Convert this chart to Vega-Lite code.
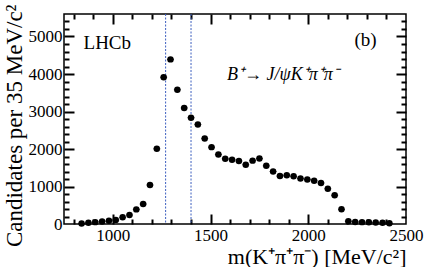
{
  "$schema": "https://vega.github.io/schema/vega-lite/v6.json",
  "width": 342,
  "height": 210,
  "autosize": "none",
  "padding": {"left": 64, "top": 14, "right": 21, "bottom": 43},
  "background": "white",
  "config": {
    "font": "Liberation Serif",
    "view": {"stroke": "black", "strokeWidth": 1.5},
    "axis": {
      "domain": false,
      "grid": false,
      "labelFont": "Liberation Serif",
      "labelFontSize": 17,
      "labelColor": "black",
      "titleFont": "Liberation Serif",
      "titleFontWeight": "normal",
      "titleColor": "black"
    }
  },
  "datasets": {
    "bins": [
      {"m": 840, "n": 15}, {"m": 875, "n": 35}, {"m": 910, "n": 50}, {"m": 945, "n": 65},
      {"m": 980, "n": 85}, {"m": 1015, "n": 110}, {"m": 1050, "n": 178}, {"m": 1085, "n": 240},
      {"m": 1120, "n": 390}, {"m": 1155, "n": 532}, {"m": 1190, "n": 1040}, {"m": 1225, "n": 2005},
      {"m": 1260, "n": 3915}, {"m": 1295, "n": 4390}, {"m": 1330, "n": 3580}, {"m": 1365, "n": 3095},
      {"m": 1400, "n": 2835}, {"m": 1435, "n": 2655}, {"m": 1470, "n": 2283}, {"m": 1505, "n": 2050},
      {"m": 1540, "n": 1855}, {"m": 1575, "n": 1740}, {"m": 1610, "n": 1715}, {"m": 1645, "n": 1680},
      {"m": 1680, "n": 1580}, {"m": 1715, "n": 1690}, {"m": 1750, "n": 1745}, {"m": 1785, "n": 1551},
      {"m": 1820, "n": 1400}, {"m": 1855, "n": 1277}, {"m": 1890, "n": 1300}, {"m": 1925, "n": 1272},
      {"m": 1960, "n": 1215}, {"m": 1995, "n": 1185}, {"m": 2030, "n": 1152}, {"m": 2065, "n": 1095},
      {"m": 2100, "n": 940}, {"m": 2135, "n": 767}, {"m": 2170, "n": 391}, {"m": 2205, "n": 75},
      {"m": 2240, "n": 55}, {"m": 2275, "n": 50}, {"m": 2310, "n": 45}, {"m": 2345, "n": 40},
      {"m": 2380, "n": 35}, {"m": 2415, "n": 20}
    ],
    "cuts": [{"m": 1270}, {"m": 1400}],
    "one": [{}]
  },
  "resolve": {"axis": {"x": "independent", "y": "independent"}},
  "layer": [
    {
      "data": {"name": "cuts"},
      "mark": {"type": "rule", "color": "#3d5fbf", "strokeWidth": 1, "strokeDash": [2, 1.5]},
      "encoding": {
        "x": {"field": "m", "type": "quantitative", "scale": {"domain": [750, 2500], "nice": false},
          "axis": {"orient": "bottom", "labels": false, "title": null, "values": [1000, 1500, 2000], "ticks": true, "tickColor": "black", "tickWidth": 2, "tickSize": 10, "offset": -10}}
      }
    },
    {
      "data": {"name": "bins"},
      "mark": {"type": "tick", "orient": "horizontal", "size": 7, "thickness": 1, "color": "black"},
      "encoding": {
        "x": {"field": "m", "type": "quantitative",
          "axis": {"orient": "top", "labels": false, "title": null, "values": [1000, 1500, 2000], "ticks": true, "tickColor": "black", "tickWidth": 2, "tickSize": 10, "offset": -10}},
        "y": {"field": "n", "type": "quantitative",
          "axis": {"orient": "right", "labels": false, "title": null, "values": [1000, 2000, 3000, 4000, 5000], "ticks": true, "tickColor": "black", "tickWidth": 2, "tickSize": 10, "offset": -10}}
      }
    },
    {
      "data": {"name": "bins"},
      "mark": {"type": "circle", "size": 42, "color": "black", "opacity": 1},
      "encoding": {
        "x": {"field": "m", "type": "quantitative", "scale": {"domain": [750, 2500], "nice": false},
          "axis": {"orient": "bottom", "format": "d",
            "values": [1000, 1500, 2000, 2500],
            "ticks": false,
            "labelPadding": 3,
            "labelFlush": false,
            "labelOverlap": false,
            "title": "m(K⁺π⁺π⁻) [MeV/c²]",
            "titleFontSize": 22,
            "titleAnchor": "end",
            "titleBaseline": "alphabetic",
            "titleY": 39}},
        "y": {"field": "n", "type": "quantitative", "scale": {"domain": [0, 5600], "nice": false},
          "axis": {"orient": "left", "format": "d",
            "values": [0, 1000, 2000, 3000, 4000, 5000],
            "ticks": false,
            "labelPadding": 2,
            "labelFlush": false,
            "labelOverlap": false,
            "title": "Candidates per 35 MeV/c²",
            "titleFontSize": 23,
            "titleAnchor": "end",
            "titleY": -10,
            "titlePadding": 2}}
      }
    },
    {
      "data": {"name": "one"},
      "mark": {"type": "text", "align": "left", "baseline": "middle", "fontSize": 19, "font": "Liberation Serif", "color": "black"},
      "encoding": {
        "x": {"datum": 850, "type": "quantitative",
          "axis": {"orient": "bottom", "labels": false, "title": null, "ticks": true, "tickColor": "black", "tickWidth": 2, "tickSize": 5, "offset": -5,
            "values": [800, 900, 1100, 1200, 1300, 1400, 1600, 1700, 1800, 1900, 2100, 2200, 2300, 2400]}},
        "y": {"datum": 4814, "type": "quantitative",
          "axis": {"orient": "left", "labels": false, "title": null, "ticks": true, "tickColor": "black", "tickWidth": 2, "tickSize": 5, "offset": -5,
            "values": [200, 400, 600, 800, 1200, 1400, 1600, 1800, 2200, 2400, 2600, 2800, 3200, 3400, 3600, 3800, 4200, 4400, 4600, 4800, 5200, 5400]}},
        "text": {"value": "LHCb"}}
    },
    {
      "data": {"name": "one"},
      "mark": {"type": "text", "align": "right", "baseline": "middle", "fontSize": 19, "font": "Liberation Serif", "color": "black"},
      "encoding": {
        "x": {"datum": 2350, "type": "quantitative",
          "axis": {"orient": "top", "labels": false, "title": null, "ticks": true, "tickColor": "black", "tickWidth": 2, "tickSize": 5, "offset": -5,
            "values": [800, 900, 1100, 1200, 1300, 1400, 1600, 1700, 1800, 1900, 2100, 2200, 2300, 2400]}},
        "y": {"datum": 4894, "type": "quantitative",
          "axis": {"orient": "right", "labels": false, "title": null, "ticks": true, "tickColor": "black", "tickWidth": 2, "tickSize": 5, "offset": -5,
            "values": [200, 400, 600, 800, 1200, 1400, 1600, 1800, 2200, 2400, 2600, 2800, 3200, 3400, 3600, 3800, 4200, 4400, 4600, 4800, 5200, 5400]}},
        "text": {"value": "(b)"}}
    },
    {
      "data": {"name": "one"},
      "mark": {"type": "text", "align": "left", "baseline": "middle", "fontSize": 18, "fontStyle": "italic", "font": "Liberation Serif", "color": "black"},
      "encoding": {
        "x": {"datum": 1584, "type": "quantitative", "axis": null},
        "y": {"datum": 3963, "type": "quantitative",
          "axis": {"orient": "left", "labels": false, "title": null, "ticks": true, "tickColor": "black", "tickWidth": 2, "tickSize": 10, "offset": -10, "values": [1000, 2000, 3000, 4000, 5000]}},
        "text": {"value": "B⁺→ J/ψK⁺π⁺π⁻"}}
    }
  ]
}
